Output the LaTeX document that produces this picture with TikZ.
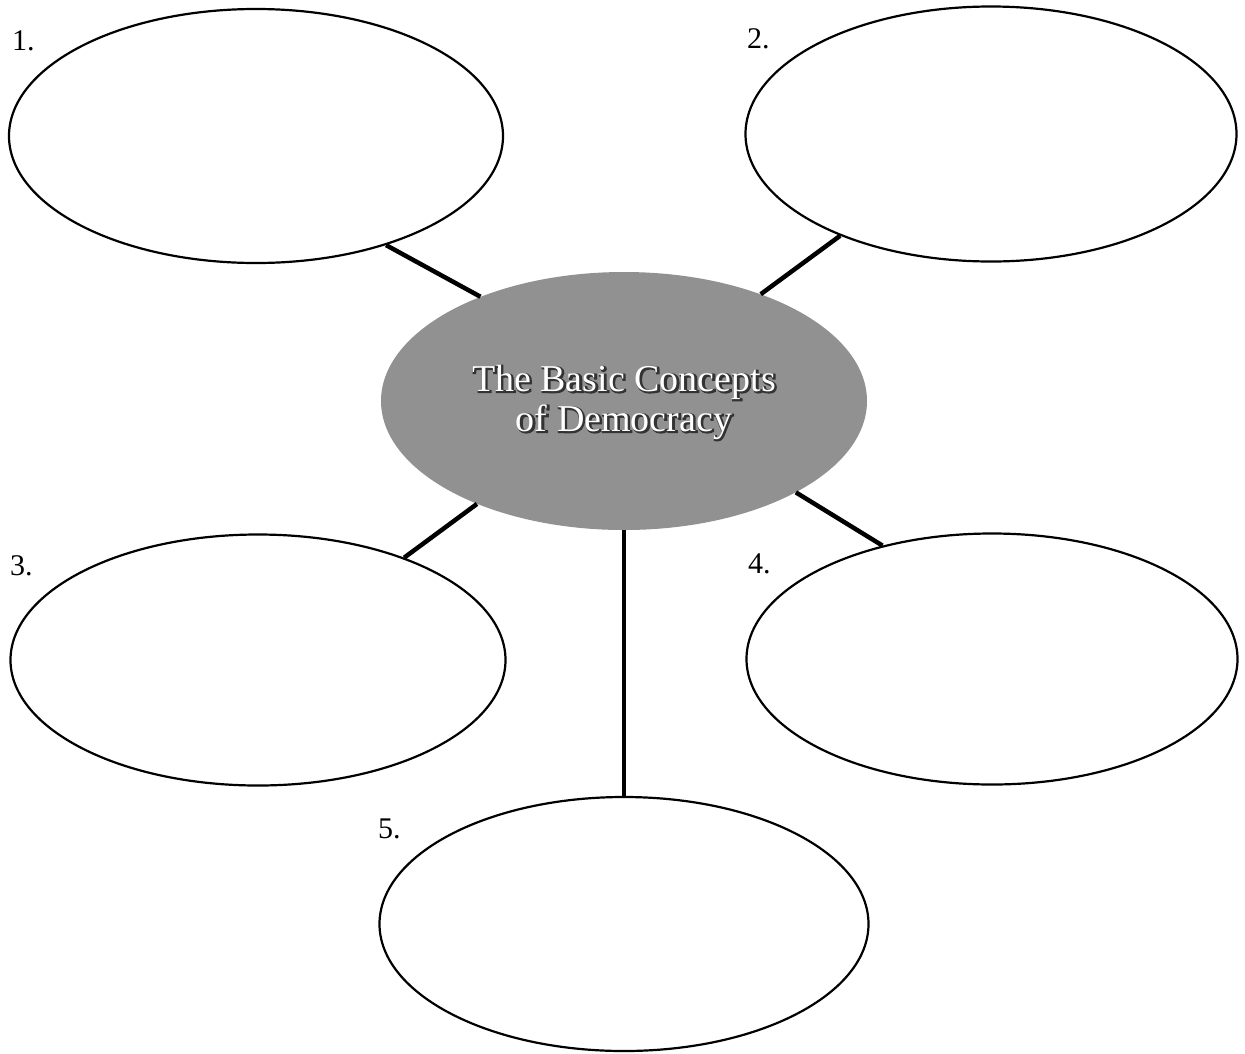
\documentclass[tikz,border=0pt]{standalone}
\usepackage{fontspec}
\setmainfont{Liberation Serif}
\newfontfamily\outlinefont[FakeBold=6]{Liberation Serif}
\usetikzlibrary{shapes.geometric}
\begin{document}
\begin{tikzpicture}[x=1pt,y=-1pt,
  bubble/.style={ellipse, draw=black, line width=2.2pt, fill=white, inner sep=0pt},
  hub/.style={ellipse, fill=black!43, inner sep=0pt},
  link/.style={line width=4.5pt, draw=black},
  numlabel/.style={font=\fontsize{30}{31}\selectfont, anchor=base west, inner sep=0pt},
  titletext/.style={font=\fontsize{38}{40}\selectfont, align=center, inner sep=0pt}]
\useasboundingbox (0,0) rectangle (1245,1053);

% outer ellipses
\node (e1) [bubble, minimum width=494pt, minimum height=254pt] at (256,136) {};
\node (e2) [bubble, minimum width=491pt, minimum height=255pt] at (991,134) {};
\node (e3) [bubble, minimum width=495pt, minimum height=251pt] at (258,660) {};
\node (e4) [bubble, minimum width=491pt, minimum height=251pt] at (992,659) {};
\node (e5) [bubble, minimum width=489pt, minimum height=254pt] at (624,924) {};

% central ellipse
\node (hub) [hub, minimum width=486pt, minimum height=258pt] at (624,401) {};

% connectors
\draw[link] (e1.-40) -- (hub.144);
\draw[link] (e2.-146) -- (hub.38);
\draw[link] (hub.-145) -- (e3.35);
\draw[link] (hub.-28) -- (e4.134);
\draw[link] (hub.south) -- (e5.north);

% title
\node (titleshade) [titletext, text=black!80] at (625,403) {\outlinefont The Basic Concepts\\\outlinefont of Democracy};
\node (title) [titletext, text=white] at (624,402) {The Basic Concepts\\of Democracy};

% number labels
\node (n1) [numlabel] at (12,50) {1.};
\node (n2) [numlabel] at (747,48) {2.};
\node (n3) [numlabel] at (10,575) {3.};
\node (n4) [numlabel] at (748,573) {4.};
\node (n5) [numlabel] at (378,838) {5.};
\end{tikzpicture}
\end{document}
